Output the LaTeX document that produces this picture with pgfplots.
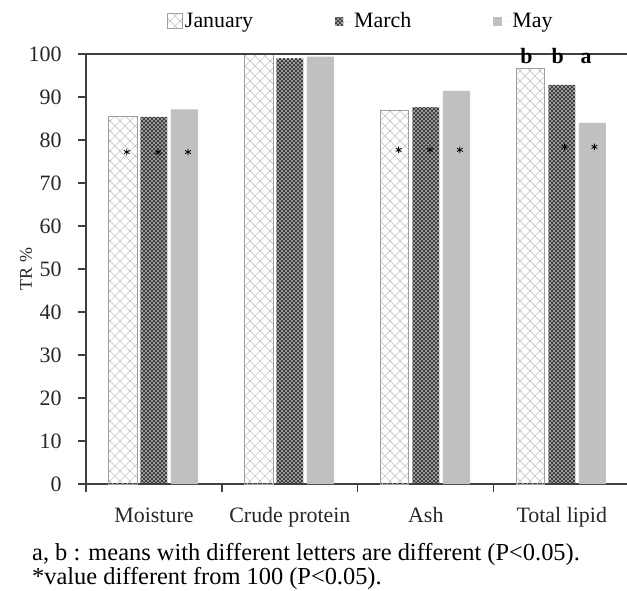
\documentclass[border=0pt]{standalone}
\usepackage{fontspec}
\setmainfont{Liberation Serif}
\usepackage{pgfplots}
\pgfplotsset{compat=1.18}
\usetikzlibrary{patterns}

\pgfdeclarepatternformonly{bigcross}{\pgfpoint{-1bp}{-1bp}}{\pgfpoint{11bp}{11bp}}{\pgfpoint{10bp}{10bp}}{%
  \pgfsetlinewidth{0.7bp}%
  \pgfpathmoveto{\pgfpoint{-1bp}{-1bp}}\pgfpathlineto{\pgfpoint{11bp}{11bp}}%
  \pgfpathmoveto{\pgfpoint{-1bp}{11bp}}\pgfpathlineto{\pgfpoint{11bp}{-1bp}}%
  \pgfusepath{stroke}}
\pgfdeclarepatternformonly{finecross}{\pgfpoint{-1bp}{-1bp}}{\pgfpoint{5bp}{5bp}}{\pgfpoint{4bp}{4bp}}{%
  \pgfsetlinewidth{1.1bp}%
  \pgfpathmoveto{\pgfpoint{-1bp}{-1bp}}\pgfpathlineto{\pgfpoint{5bp}{5bp}}%
  \pgfpathmoveto{\pgfpoint{-1bp}{5bp}}\pgfpathlineto{\pgfpoint{5bp}{-1bp}}%
  \pgfusepath{stroke}}

\definecolor{axisgray}{HTML}{404040}
\definecolor{maygray}{HTML}{C0C0C0}
\newcommand{\bigfont}{\fontsize{22}{26}\selectfont}
\newcommand{\capfont}{\fontsize{24.5}{28}\selectfont}

\begin{document}
\begin{tikzpicture}[x=1bp,y=1bp]
\begin{axis}[
  at={(86bp,-484bp)}, anchor=south west,
  scale only axis, width=541bp, height=430bp,
  xmin=-0.5, xmax=3.48, ymin=0, ymax=100,
  axis x line*=bottom, axis y line*=left,
  axis line style={axisgray, line width=1.4bp},
  tick style={axisgray, line width=1.2bp},
  tick align=outside, major tick length=8bp,
  ytick={0,10,...,100},
  yticklabel style={xshift=-13bp},
  xtick={-0.5,0.5,1.5,2.5}, xticklabels={},
  extra x ticks={0,1,2,3},
  extra x tick labels={Moisture, Crude protein, Ash, Total lipid},
  extra x tick style={major tick length=0pt, tick label style={yshift=-20bp}},
  tick label style={font=\bigfont, text=black!85},
  /pgf/number format/assume math mode=true,
  ylabel={TR \%},
  ylabel style={at={(rel axis cs:0,0.5)}, anchor=center, yshift=60bp, font=\fontsize{18}{21}\selectfont, text=black!85},
  clip=false,
  legend style={draw=none, fill=none, inner sep=0pt, at={(rel axis cs:0.1497,1)}, anchor=west, yshift=33bp,
    font=\bigfont, legend columns=3, legend cell align=left,
    /tikz/every even column/.append style={column sep=80bp}},
]
\addplot[ybar, bar width=0.21, bar shift=-0.23, draw=gray!75, line width=0.8bp,
  pattern=bigcross, pattern color=gray!45,
  legend image code/.code={\draw[gray!75, line width=0.8bp, pattern=bigcross, pattern color=gray!45] (0bp,-7.5bp) rectangle (15bp,7.5bp);}]
  coordinates {(0,85.6) (1,99.8) (2,87.0) (3,96.7)};
\addlegendentry{January}
\addplot[ybar, bar width=0.195, bar shift=0, draw=none,
  pattern=finecross, pattern color=black!75,
  legend image code/.code={\fill[pattern=finecross, pattern color=black!75] (0bp,-4bp) rectangle (8bp,4bp); \path (0bp,0bp) -- (17bp,0bp);}]
  coordinates {(0,85.4) (1,99.0) (2,87.6) (3,92.8)};
\addlegendentry{March}
\addplot[ybar, bar width=0.2, bar shift=0.225, draw=none, fill=maygray,
  legend image code/.code={\fill[maygray] (0bp,-4.5bp) rectangle (9bp,4.5bp); \path (0bp,0bp) -- (17bp,0bp);}]
  coordinates {(0,87.1) (1,99.4) (2,91.4) (3,84.0)};
\addlegendentry{May}
% significance asterisks (value different from 100)
\addplot[forget plot, only marks, mark=asterisk, mark size=3.3bp, black, mark options={line width=0.8bp}]
  coordinates {(-0.20,77.2) (0.03,77.2) (0.25,77.2) (1.80,77.7) (2.03,77.7) (2.25,77.7) (3.02,78.4) (3.24,78.4)};
% letters
\addplot[forget plot, draw=none, mark=none, nodes near coords, point meta=explicit symbolic,
  nodes near coords style={font=\bigfont\bfseries, anchor=base, inner sep=0pt}]
  coordinates {(2.74,97.9) [b] (2.97,97.9) [b] (3.18,97.9) [a]};
\draw[axisgray, line width=1.4bp] (axis cs:-0.5,100) -- (rel axis cs:1,1);
\end{axis}
\node[anchor=base west, font=\capfont, inner sep=0pt] at (32bp,-560bp) {a, b : means with different letters are different (P<0.05).};
\node[anchor=base west, font=\capfont, inner sep=0pt] at (32bp,-584bp) {*value different from 100 (P<0.05).};
\pgfresetboundingbox
\useasboundingbox (0,0) rectangle (627bp,-591bp);
\end{tikzpicture}
\end{document}
